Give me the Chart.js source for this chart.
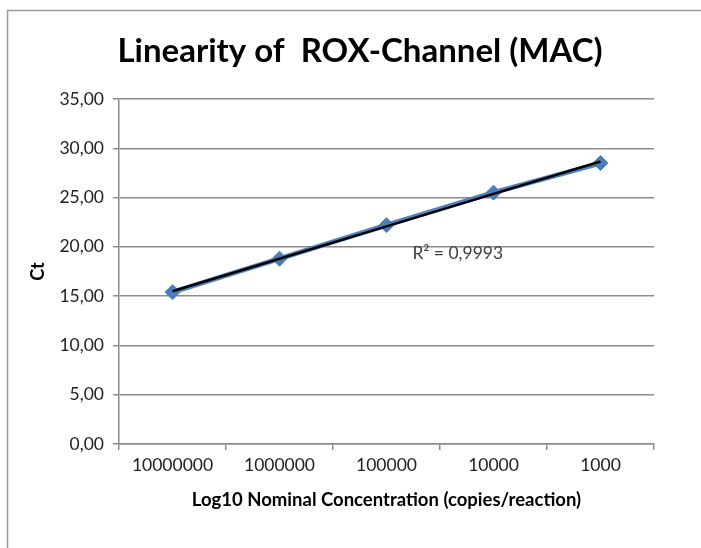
<!DOCTYPE html>
<html>
<head>
<meta charset="utf-8">
<script src="https://cdn.jsdelivr.net/npm/chart.js@4"></script>
<style>
  html, body { margin: 0; padding: 0; background: #fff; }
  #wrap { width: 701px; height: 548px; position: relative; }
</style>
</head>
<body>
<div id="wrap"><canvas id="c" width="701" height="548"></canvas></div>
<script>
const categories = ["10000000", "1000000", "100000", "10000", "1000"];
const ctValues = [15.4, 18.8, 22.2, 25.5, 28.5];
const yTickStep = 5;
const yMax = 35;
const titleText = "Linearity of  ROX-Channel (MAC)";
const xTitle = "Log10 Nominal Concentration (copies/reaction)";
const yTitle = "Ct";
const r2Label = "R\u00B2 = 0,9993";

// linear trend line derived from the data (least squares)
const n = ctValues.length;
const xs = ctValues.map((_, i) => i + 1);
const mx = xs.reduce((a, b) => a + b, 0) / n;
const my = ctValues.reduce((a, b) => a + b, 0) / n;
let sxy = 0, sxx = 0;
xs.forEach((x, i) => { sxy += (x - mx) * (ctValues[i] - my); sxx += (x - mx) * (x - mx); });
const slope = sxy / sxx;
const intercept = my - slope * mx;
const trend = xs.map(x => intercept + slope * x);

const FONT = "Lato, 'Open Sans', sans-serif";
const GRID = "#8c8c8c";

const framePlugin = {
  id: 'frame',
  beforeDraw(chart) {
    const ctx = chart.ctx;
    ctx.save();
    ctx.fillStyle = '#fff';
    ctx.fillRect(0, 0, chart.width, chart.height);
    ctx.strokeStyle = '#9a9a9a';
    ctx.lineWidth = 1.5;
    ctx.strokeRect(7.5, 10.5, 900, 900);
    // title
    ctx.font = "bold 33px " + FONT;
    ctx.fillStyle = '#000';
    ctx.textAlign = 'center';
    ctx.textBaseline = 'middle';
    ctx.fillText(titleText, 360, 51);
    ctx.restore();
  }
};

const r2Plugin = {
  id: 'r2',
  afterDatasetsDraw(chart) {
    const ctx = chart.ctx;
    const xs = chart.scales.x, ys = chart.scales.y;
    const px = xs.getPixelForValue(2) + 26;
    const py = ys.getPixelForValue(19.3);
    ctx.save();
    ctx.font = "17.5px " + FONT;
    ctx.fillStyle = '#404040';
    ctx.textAlign = 'left';
    ctx.textBaseline = 'middle';
    ctx.fillText(r2Label, px, py);
    ctx.restore();
  }
};

new Chart(document.getElementById('c'), {
  type: 'line',
  data: {
    labels: categories,
    datasets: [
      {
        label: 'Trend',
        data: trend,
        borderColor: '#000000',
        borderWidth: 2.5,
        pointRadius: 0,
        fill: false,
        tension: 0,
        order: 0
      },
      {
        label: 'Ct',
        data: ctValues,
        borderColor: '#4F81BD',
        borderWidth: 5,
        pointStyle: 'rectRot',
        pointRadius: 7.5,
        pointBackgroundColor: '#4A7EBB',
        pointBorderColor: '#4A7EBB',
        pointBorderWidth: 1,
        fill: false,
        tension: 0,
        order: 1
      }
    ]
  },
  options: {
    responsive: false,
    animation: false,
    devicePixelRatio: 1,
    layout: { padding: { left: 0, right: 47, top: 99, bottom: 0 } },
    plugins: {
      legend: { display: false },
      tooltip: { enabled: false },
      title: { display: false }
    },
    scales: {
      x: {
        type: 'category',
        offset: true,
        afterFit(scale) { scale.height = 104; },
        grid: {
          offset: true,
          drawOnChartArea: false,
          drawTicks: true,
          tickLength: 6,
          color: GRID,
          lineWidth: 1.5
        },
        border: { display: true, color: GRID, width: 1.5 },
        ticks: {
          color: '#222',
          font: { family: FONT, size: 17.5 },
          padding: 5,
          maxRotation: 0
        },
        title: {
          display: true,
          text: xTitle,
          color: '#000',
          font: { family: FONT, size: 18.5, weight: 'bold' },
          padding: { top: 0, bottom: 37 }
        }
      },
      y: {
        min: 0,
        max: yMax,
        afterFit(scale) { scale.width = 119; },
        grid: {
          color: GRID,
          lineWidth: 1.5,
          tickLength: 6,
          drawTicks: true
        },
        border: { display: true, color: GRID, width: 1.5 },
        ticks: {
          stepSize: yTickStep,
          color: '#222',
          font: { family: FONT, size: 17.5 },
          padding: 9,
          callback: v => v.toFixed(2).replace('.', ',')
        },
        title: {
          display: true,
          text: yTitle,
          color: '#000',
          font: { family: FONT, size: 18, weight: 'bold' },
          padding: { top: 27, bottom: 0 }
        }
      }
    }
  },
  plugins: [framePlugin, r2Plugin]
});
</script>
</body>
</html>
